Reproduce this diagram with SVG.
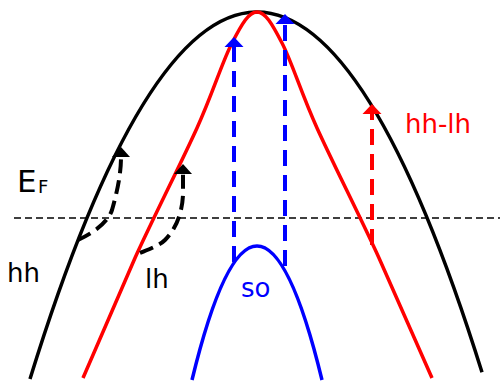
<svg xmlns="http://www.w3.org/2000/svg" width="500" height="381" viewBox="0 0 500 381">
<style>
.band{fill:none;stroke-width:3.5}
.arr{fill:none;stroke-width:4;stroke-dasharray:16,9}
.lbl{font-family:"DejaVu Sans",sans-serif;font-size:26px}
</style>
<defs>
<marker id="ahk" viewBox="0 -10 10 20" refX="0" refY="0" markerWidth="10" markerHeight="20" markerUnits="userSpaceOnUse" orient="auto"><path d="M0,-9 L10,0 L0,9 z" fill="#000"/></marker>
<marker id="ahb" viewBox="0 -10 10 20" refX="0" refY="0" markerWidth="10" markerHeight="20" markerUnits="userSpaceOnUse" orient="auto"><path d="M0,-9.5 L10,0 L0,9.5 z" fill="#00f"/></marker>
<marker id="ahr" viewBox="0 -10 10 20" refX="0" refY="0" markerWidth="10" markerHeight="20" markerUnits="userSpaceOnUse" orient="auto"><path d="M0,-9.5 L10,0 L0,9.5 z" fill="#f00"/></marker>
</defs>
<g id="fermi-level">
<line x1="14" y1="218" x2="500" y2="218" stroke="#000" stroke-width="1.5" stroke-dasharray="7,4"/>
<text class="lbl" x="17" y="192" style="font-size:31px" fill="#000">E</text>
<text class="lbl" x="38" y="193" style="font-size:18px" fill="#000">F</text>
</g>
<g id="hh">
<path class="band" stroke="#000" d="M30,379 Q256,-351.6 482,372.3"/>
<text class="lbl" x="7" y="282" fill="#000">hh</text>
</g>
<g id="lh">
<path class="band" stroke="#f00" d="M83,378 L135,258 C154,216.3 180.8,163.8 197,128 C213.2,92.2 222,62.3 232,43 C242,23.7 248.7,12 257,12 C265.3,12 272,23.7 282,43 C292,62.3 300.8,92.2 317,128 C333.2,163.8 360,216.3 379,258 L432,378"/>
<text class="lbl" x="145" y="288" fill="#000">lh</text>
</g>
<g id="so">
<path class="band" stroke="#00f" d="M192,380 Q257,112 322,380"/>
<text class="lbl" x="241" y="297" fill="#00f">so</text>
</g>
<g id="hh-lh-label">
<text class="lbl" x="405" y="133" fill="#f00">hh-lh</text>
</g>
<g id="connectors">
<path class="arr" stroke="#000" stroke-width="3.5" style="stroke-dasharray:14,7" d="M78,240 C95,232 108,222 112,210 C117,192 121,175 121,157" marker-end="url(#ahk)"/>
<path class="arr" stroke="#000" stroke-width="3.5" style="stroke-dasharray:14,7" d="M140,253 C152,248 160,245 165,240 C175,230 182,215 183,195 L183,174" marker-end="url(#ahk)"/>
<path class="arr" stroke="#00f" d="M234,262 L234,47" marker-end="url(#ahb)"/>
<path class="arr" stroke="#00f" d="M285,266 L285,24" marker-end="url(#ahb)"/>
<path class="arr" stroke="#f00" d="M372,245 L372,114" marker-end="url(#ahr)"/>
</g>
</svg>
